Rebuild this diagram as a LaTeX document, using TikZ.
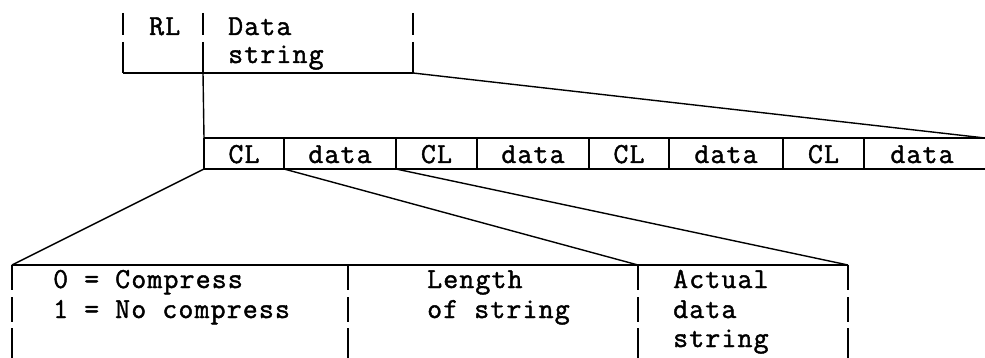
\documentclass[tikz,border=0pt]{standalone}
\usepackage{fontspec}
\setmainfont{Latin Modern Mono}[LetterSpace=4,FakeBold=1.5]
\begin{document}
\begin{tikzpicture}[x=1pt,y=-1pt,
  lbl/.style={font=\fontsize{29}{30}\selectfont, inner sep=0pt, anchor=base west},
  cell/.style={font=\fontsize{29}{30}\selectfont, inner sep=0pt, anchor=base},
  rule/.style={line width=1.4pt},
  link/.style={line width=1.4pt}]
\useasboundingbox (0,0) rectangle (985,358);
% ---------- top record: RL | Data string
\foreach \x in {123,203,413}{
  \draw[rule] (\x,13) -- (\x,35);
  \draw[rule] (\x,42) -- (\x,73);
}
\coordinate (rlbl) at (123,73);
\coordinate (rlbm) at (203,73);
\coordinate (rlbr) at (413,73);
\draw[rule] (rlbl) -- (rlbr);
\node[lbl] (rl) at (149,35) {RL};
\node[lbl] (ds1) at (228,35) {Data};
\node[lbl] (ds2) at (228,63) {string};
% ---------- data row
\coordinate (rowtl) at (204,138);
\coordinate (rowtr) at (985,138);
\coordinate (rowbl) at (204,169);
\coordinate (rowbr) at (985,169);
\draw[rule] (rowtl) -- (rowtr);
\draw[rule] (rowbl) -- (rowbr);
\foreach \x/\n in {204/d0,284/d1,396/d2,477/d3,589/d4,669/d5,783/d6,864/d7}{
  \draw[rule] (\x,138) -- (\x,169);
  \coordinate (\n) at (\x,169);
}
\node[cell] (cl1) at (244,163) {CL};
\node[cell] (da1) at (340,163) {data};
\node[cell] (cl2) at (436.5,163) {CL};
\node[cell] (da2) at (533,163) {data};
\node[cell] (cl3) at (629,163) {CL};
\node[cell] (da3) at (726,163) {data};
\node[cell] (cl4) at (823.5,163) {CL};
\node[cell] (da4) at (922,163) {data};
% connectors top -> row
\draw[link] (rlbm) -- (rowtl);
\draw[link] (rlbr) -- (rowtr);
% ---------- bottom record
\coordinate (b0) at (12,265);
\coordinate (b1) at (348,265);
\coordinate (b2) at (638,265);
\coordinate (b3) at (848,265);
\draw[rule] (b0) -- (b3);
\foreach \x in {12,348,638,848}{
  \draw[rule] (\x,265) -- (\x,290);
  \draw[rule] (\x,297) -- (\x,322);
  \draw[rule] (\x,328) -- (\x,358);
}
\node[lbl] (c0) at (53,288) {0 = Compress};
\node[lbl] (c1) at (53,318) {1 = No compress};
\node[lbl] (l1) at (427,288) {Length};
\node[lbl] (l2) at (427,318) {of string};
\node[lbl] (a1) at (673,288) {Actual};
\node[lbl] (a2) at (673,318) {data};
\node[lbl] (a3) at (673,347) {string};
% connectors row -> bottom
\draw[link] (d0) -- (b0);
\draw[link] (d1) -- (b2);
\draw[link] (d2) -- (b3);
\end{tikzpicture}
\end{document}
